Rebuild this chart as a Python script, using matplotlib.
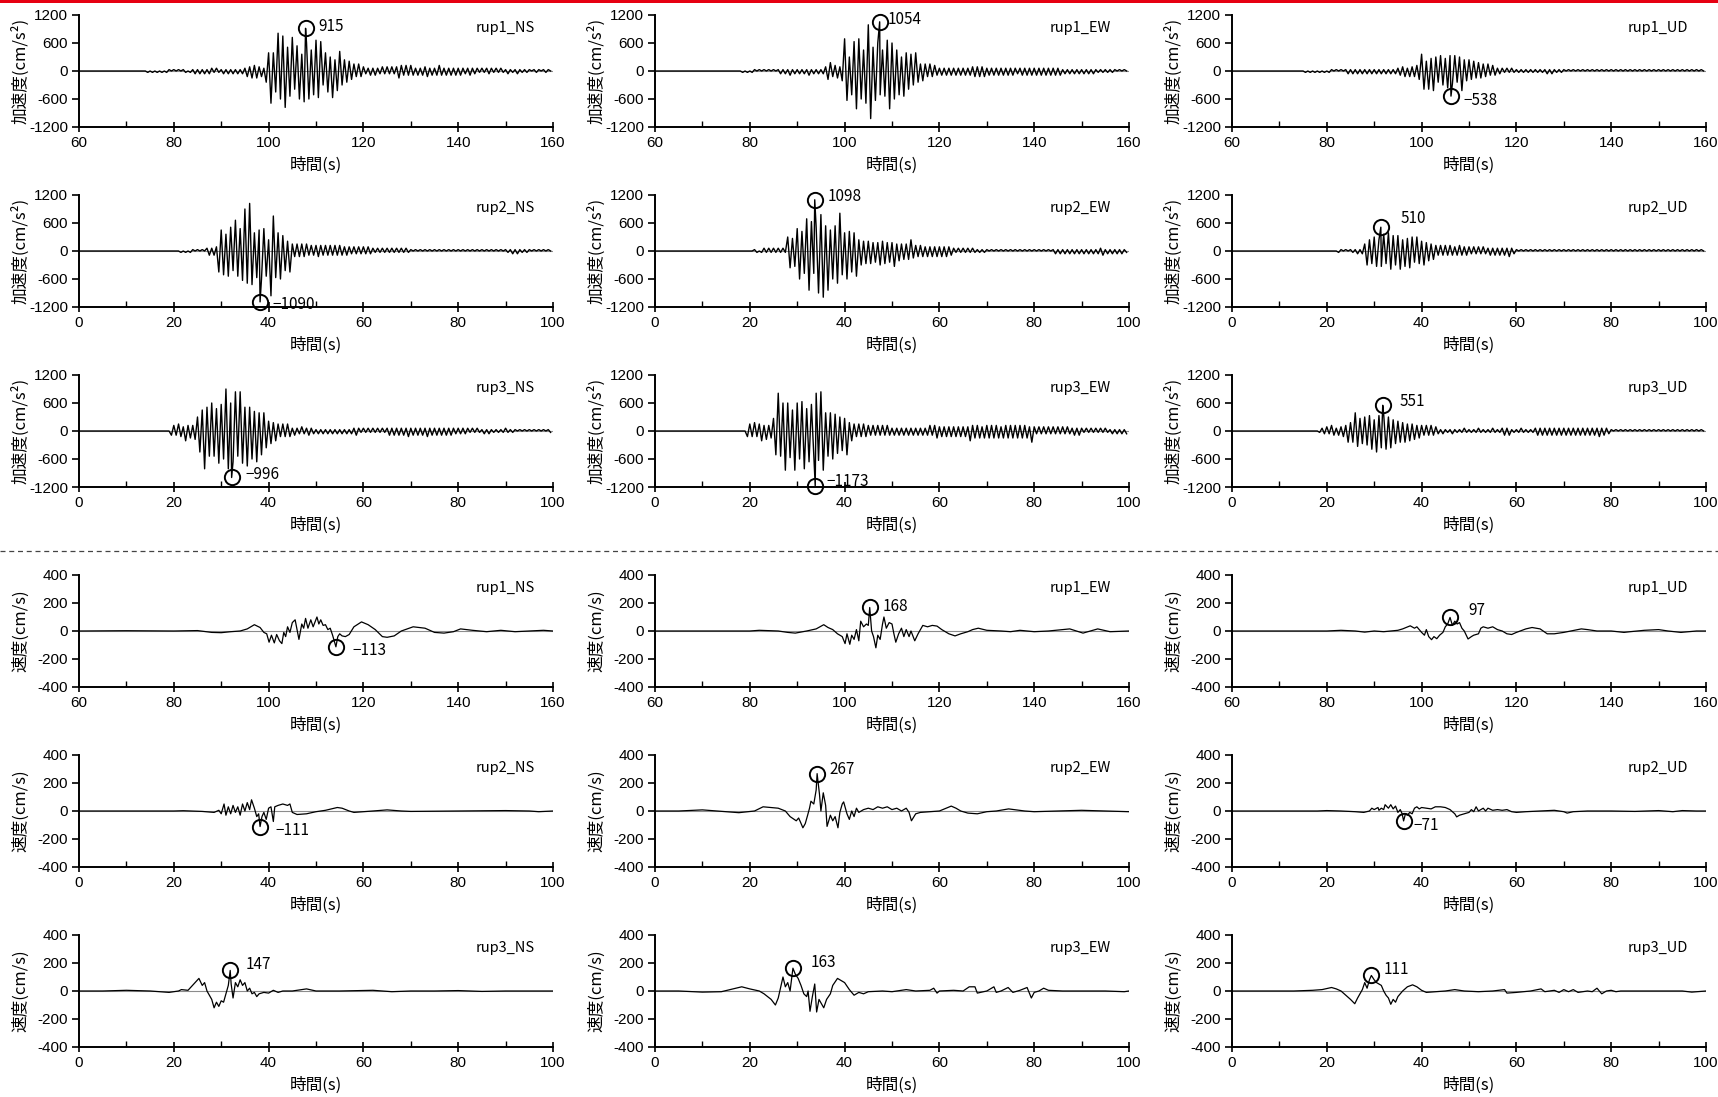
import numpy as np
import matplotlib.pyplot as plt
from matplotlib.lines import Line2D
from matplotlib.patches import Rectangle

plt.rcParams['font.family'] = ['Liberation Sans', 'Noto Sans CJK JP', 'DejaVu Sans']
plt.rcParams['axes.unicode_minus'] = False
JP = ['Noto Sans CJK JP', 'DejaVu Sans']

# --- data --------------------------------------------------------------
ruptures = ["rup1", "rup2", "rup3"]
components = ["NS", "EW", "UD"]
t_start = {"rup1": 60, "rup2": 0, "rup3": 0}

# acceleration: one char = one peak every 0.5 s, sign alternates (+ on whole seconds),
# char index in LEVELS times ACC_UNIT gives |a| in cm/s2
LEVELS = "0123456789abcdefghijklmnopqrstuvwxyz"
ACC_UNIT = 30
STEP = 0.5

acc_rup1_ns = ("0" * 28 + "01010101011010101101" + "1212121221211212121212" + "243545342"
               + "8dndfrkpqhiodikcmkkfhmjladfaj8eea88" + "765454" + "32232322323232"
               + "35434343" + "232334232343232323" + "23222322212122212121"
               + "12111211111011101110")
acc_rup1_ew = ("0" * 36 + "0101011010101010" + "12121312121213121212" + "3664453"
               + "7nlahlrnkfnxyhlkhfimrkkfhaiddcad857" + "545443" + "23232323232323"
               + "343434" + "23232323232322232323" + "232323232323"
               + "1212121212121211111111101010")
acc_rup1_ud = ("0" * 30 + "010101010101101010" + "12" * 11 + "23342434"
               + "46cd7d9ea8ba9cb9b8ae87867565545343" + "22212121"
               + "11111111111112121111" + "10" * 30)
acc_rup2_ns = ("0" * 42 + "010101101010" + "2323" + "3ffhcihemiglunyodjfkgi8wpjdkbe7f"
               + "5454545343" + "444343434343333232323232" + "2121212121212121"
               + "10" * 20 + "1112121111" + "10" * 5)
acc_rup2_ew = ("0" * 42 + "11012121212121" + "ac" + "9bgkegnslghuqxisfkinrhdkefdi"
               + "8a7979686a7968" + "6b57565685" + "4444343434343433" + "21212121211111"
               + "10" * 14 + "12121212121212121212231212121211")
acc_rup2_ud = ("0" * 44 + "011010111212" + "5a89ab8bc9ddbabd8b9ca8a97a6756"
               + "4343434333433332323232" + "232323232422" + "10" * 40)
acc_rup3_ns = ("0" * 39 + "34354374546" + "affrhikignjkurkmsisnhphkemdhdc7967" + "545454"
               + "2322322322" + "12" * 8 + "2321" + "21" * 5 + "2323232324232323242323"
               + "232323222222212121" + "121211111121111010101010101011")
acc_rup3_ew = ("0" * 39 + "45464574645" + "9hrikskjfskklrgmjirlssdidkcgae9h67"
               + "5454544343434343" + "23" * 8 + "4345" + "34" * 6 + "37"
               + "454535454545354545454545" + "38" + "32323232323232322323"
               + "21212121212112121212")
acc_rup3_ud = ("0" * 37 + "12232432334" + "4868db99aabd8fbccdac897868575645" + "43434332"
               + "12111211112111112111112111" + "2323" + "1111211111"
               + "232323232323232323232323232" + "4" + "2322" + "10" * 20)

acc_traces = {
    ("rup1", "NS"): acc_rup1_ns, ("rup1", "EW"): acc_rup1_ew, ("rup1", "UD"): acc_rup1_ud,
    ("rup2", "NS"): acc_rup2_ns, ("rup2", "EW"): acc_rup2_ew, ("rup2", "UD"): acc_rup2_ud,
    ("rup3", "NS"): acc_rup3_ns, ("rup3", "EW"): acc_rup3_ew, ("rup3", "UD"): acc_rup3_ud,
}

# peak (time s, value)
acc_peaks = {
    ("rup1", "NS"): (107.8, 915), ("rup1", "EW"): (107.4, 1054), ("rup1", "UD"): (106.2, -538),
    ("rup2", "NS"): (38.2, -1090), ("rup2", "EW"): (33.7, 1098), ("rup2", "UD"): (31.4, 510),
    ("rup3", "NS"): (32.2, -996), ("rup3", "EW"): (33.8, -1173), ("rup3", "UD"): (31.8, 551),
}

# velocity: (time s, cm/s) points
vel_rup1_ns = [(60, 0), (70, 2), (80, 0), (85, 3), (88, -10), (90, -12), (92, -5), (94, 0), (95.5, 15),
               (97, 45), (98.2, 25), (99, -10), (99.6, -20), (100.1, -80), (100.6, -30), (101.2, -85),
               (101.7, -25), (102.3, -70), (102.8, -90), (103.2, -10), (103.6, -40), (104, 30),
               (104.5, -10), (105, 60), (105.6, 80), (106, 10), (106.4, -60), (107, 50), (107.4, 20),
               (107.8, 90), (108.3, 20), (108.9, 80), (109.4, 30), (110.2, 100), (110.6, 50), (111, 80),
               (111.5, 40), (112, 45), (112.5, 10), (113, 20), (113.5, -30), (114.6, -40), (115, -20),
               (115.5, -35), (116.2, -40), (117, -25), (118, 30), (119.6, 65), (121, 45), (122.5, 10),
               (124, -40), (125, -45), (126.5, -35), (128, 0), (130.5, 30), (133, 20), (135, -10),
               (137, -15), (139, -5), (140.5, 15), (143, 5), (146, -5), (149, 5), (152, -5), (155, 0),
               (158, 5), (160, 0)]
vel_rup1_ew = [(60, 0), (70, 0), (80, 0), (82, 5), (86, 0), (88, -10), (89.6, -15), (92, 0), (94, 15),
               (95.6, 45), (96.5, 25), (97.5, 10), (98.5, -20), (99.5, -40), (100.1, -90), (100.5, -20),
               (101.1, -95), (101.5, -30), (102, -60), (102.5, 10), (103, -70), (103.4, 70), (104, 30),
               (104.6, 50), (105.0, 40), (105.7, 0), (106.1, -40), (106.6, -120), (107, -30),
               (107.5, -60), (108, 50), (108.3, 100), (108.8, 20), (109.4, 60), (110, 50), (110.4, -20),
               (110.8, -80), (111.4, -20), (112, 20), (112.5, -40), (113, 10), (113.6, -40), (114, 0),
               (114.8, -70), (115.5, -20), (116.5, 40), (117.5, 30), (118.5, 40), (119.5, 35),
               (120.5, 10), (122, -20), (123.3, -35), (124.5, -20), (126, -5), (127, 10), (128.2, 20),
               (130, 5), (133, 0), (135, -5), (137, 5), (140, -5), (143, 0), (147.5, 15),
               (150.3, -15), (153.4, 15), (156, -5), (160, 0)]
vel_rup1_ud = [(60, 0), (70, 0), (80, 0), (83, 5), (86, 0), (88, -8), (90, 0), (92, -5), (95, 5), (96, 15),
               (97.6, 37), (98.5, 20), (99, 30), (100, -10), (100.6, -30), (101, 10), (101.5, -40),
               (102.1, -62), (102.6, -40), (103.2, -55), (103.8, -30), (104.5, -10), (105, 30),
               (105.5, 50), (106.5, 40), (107, 70), (107.5, 50), (108, 60), (108.5, 20), (109, 0),
               (109.8, -57), (110.5, -40), (111, -30), (112, -20), (112.5, 20), (113, 30), (114, 20),
               (115, 30), (116, 10), (117, 0), (118, -20), (119, -25), (120, -10), (122, 15),
               (123.3, 25), (125, 15), (126.5, -20), (128, -20), (130, -10), (133.7, 15), (135, 10),
               (137, 0), (140, 0), (142.7, -10), (144, -5), (147, 5), (150, 10), (152, 0),
               (154.7, -10), (158, 0), (160, 0)]
vel_rup2_ns = [(0, 0), (10, 0), (20, 0), (22, 2), (26, -3), (28.5, -10), (29.5, 5), (30, -20), (30.6, 50),
               (31, -30), (31.5, 30), (32, -20), (32.5, 40), (33, -10), (33.5, 30), (34, -30),
               (34.5, 50), (35, 0), (35.5, 60), (36, 10), (36.4, 80), (37, 20), (37.5, -40),
               (37.9, -20), (38.6, -40), (39, -10), (39.5, -60), (40, 20), (40.5, 30), (41, -75),
               (41.3, 30), (42, 40), (43, 50), (44, 40), (44.5, 50), (45, -10), (46, -25), (48, -20),
               (50, -5), (52, 5), (54.5, 25), (55.5, 20), (57, 0), (58, -10), (60, -5), (62, 0),
               (65, 8), (68, 0), (70, -3), (80, 0), (90, 3), (95, 0), (97, -5), (100, 0)]
vel_rup2_ew = [(0, 0), (5, 0), (10, 8), (15, -5), (17.7, -12), (21, 0), (22.8, 30), (26, 20), (27.5, 0),
               (28.5, -40), (29.8, -70), (30.3, -50), (30.7, -80), (31.2, -120), (31.7, -90),
               (32.2, -30), (32.6, 20), (32.9, 70), (33.5, 50), (34.0, 150), (34.7, 120), (35.0, 0),
               (35.5, 130), (36, 40), (36.3, -110), (37, -30), (37.5, -70), (38, -40), (38.6, -120),
               (39, -10), (39.5, 50), (39.8, 65), (40.5, -20), (41, -60), (41.5, 0), (42, -40),
               (42.5, 20), (43, -10), (44, 10), (45, 20), (46, 10), (47, 30), (48, 20), (49, 30),
               (50, 10), (51, 20), (52, 0), (53, 20), (53.6, -10), (54.1, -70), (55, -20), (56, -10),
               (58, -5), (60, 0), (62.5, 35), (63.5, 20), (64.5, 0), (66, -15), (68, -20), (70, -5),
               (72, 0), (74.6, 15), (78, 0), (80, -5), (85, 0), (90, 5), (95, 0), (100, -5)]
vel_rup2_ud = [(0, 0), (10, 0), (18, 0), (20, 3), (23, 0), (26, -5), (27.8, -10), (29, 0), (29.5, 20),
               (30, 10), (30.8, 25), (31, 5), (31.5, 20), (32, 10), (32.3, 45), (33, 20), (33.5, 45),
               (34, 15), (34.5, 35), (35, -10), (35.5, 10), (35.9, -20), (36.6, -20), (37, -30),
               (37.5, -10), (38, -20), (38.5, 20), (39, 30), (39.5, 15), (40, 25), (41, 20), (42, 15),
               (42.9, 30), (44, 30), (45, 25), (46, 10), (47, -20), (47.4, -42), (48, -30), (49, -20),
               (50, -10), (50.5, 10), (51, -5), (51.5, 30), (52, 0), (53, 20), (53.5, 0), (54, 20),
               (55, 5), (56, 10), (57, 5), (58, 10), (59, -5), (60, -10), (62, -5), (65, 0), (68, 5),
               (70, -5), (70.7, -15), (72, -5), (75, 0), (80, 0), (85, -3), (90, 3), (93, -5),
               (95, 3), (98, 0), (100, 0)]
vel_rup3_ns = [(0, 0), (5, 0), (10, 5), (15, 0), (19, -10), (21, 0), (21.6, 10), (23, 5), (25.3, 90),
               (26, 40), (26.5, 60), (27, 0), (28, -60), (28.5, -120), (29, -80), (29.5, -110),
               (30, -70), (30.5, -80), (31, -20), (31.5, 40), (32.1, 50), (32.5, -50), (33, 60),
               (33.5, 30), (34, 80), (34.5, 40), (35, 60), (35.5, 0), (36, 20), (36.5, -20), (37, -10),
               (37.5, -40), (38, -20), (39, -10), (40, -15), (41, 5), (42, -10), (43, 0), (45, 0),
               (48, 15), (50, 0), (55, 0), (62, 5), (66, -5), (70, 0), (75, 0), (80, 3), (85, -3),
               (90, 0), (100, 0)]
vel_rup3_ew = [(0, 0), (5, 0), (10, -8), (14, -5), (18.3, 30), (20, 15), (22, 0), (23, -20), (24.5, -60),
               (25.4, -100), (26, -50), (27, 100), (27.5, 30), (28, 60), (28.5, 0), (29.6, 120),
               (30.2, 90), (30.8, 40), (31.4, -20), (32, -40), (32.3, 0), (32.7, -145), (33.2, -40),
               (33.7, 50), (34.1, -150), (34.6, -60), (35.6, -120), (36.2, -60), (37, -20), (37.5, 40),
               (38.5, 90), (39.5, 70), (40, 60), (41, 10), (42, -30), (43, -10), (44, -20), (45, -5),
               (48, 0), (50, -5), (53, 10), (55, 0), (58, 5), (58.8, 20), (59.5, -15), (60, 0),
               (63, 5), (65, 0), (66.3, 30), (67.5, 30), (68, -15), (70, 0), (71.5, 30), (72, -10),
               (73, 0), (74.5, 25), (75.5, -10), (77, 5), (78.5, 25), (79.4, -50), (80, -10), (81, 0),
               (82, 20), (83, 5), (86, 0), (90, 0), (95, 0), (99, -5), (100, 0)]
vel_rup3_ud = [(0, 0), (10, 0), (13, 0), (17, 5), (19, 10), (21, 25), (22, 15), (23, 0), (24, -30),
               (25, -60), (25.9, -91), (26.5, -50), (27, -20), (27.5, 10), (28, 60), (28.5, 20),
               (29, 80), (30, 80), (30.5, 60), (31, 50), (31.5, 40), (32, 0), (32.5, -30), (33, -50),
               (33.5, -95), (34, -60), (34.5, -80), (35, -40), (35.5, -20), (36, 0), (37, 30),
               (38.1, 44), (39, 30), (40, 5), (41, -10), (43, -5), (45, 0), (47, 10), (49, 0),
               (52, -5), (55, 0), (57.5, 10), (58, -15), (60, -10), (63, 0), (65.2, 15), (66, -5),
               (68, 5), (69, -10), (70, 10), (71, -5), (72, 10), (73, -10), (75, 0), (76, -5),
               (77, 20), (78, -20), (79, 0), (80, 5), (81, -5), (82, 0), (90, 0), (95, 0), (97, -8),
               (100, 0)]

vel_traces = {
    ("rup1", "NS"): vel_rup1_ns, ("rup1", "EW"): vel_rup1_ew, ("rup1", "UD"): vel_rup1_ud,
    ("rup2", "NS"): vel_rup2_ns, ("rup2", "EW"): vel_rup2_ew, ("rup2", "UD"): vel_rup2_ud,
    ("rup3", "NS"): vel_rup3_ns, ("rup3", "EW"): vel_rup3_ew, ("rup3", "UD"): vel_rup3_ud,
}
vel_peaks = {
    ("rup1", "NS"): (114.2, -113), ("rup1", "EW"): (105.3, 168), ("rup1", "UD"): (106.0, 97),
    ("rup2", "NS"): (38.2, -111), ("rup2", "EW"): (34.2, 267), ("rup2", "UD"): (36.2, -71),
    ("rup3", "NS"): (31.9, 147), ("rup3", "EW"): (29.1, 163), ("rup3", "UD"): (29.4, 111),
}

# label offsets of the peak values (points), style only
acc_label_off = {
    ("rup1", "NS"): (9, 1), ("rup1", "EW"): (6, 2), ("rup1", "UD"): (9, -3),
    ("rup2", "NS"): (9, -2), ("rup2", "EW"): (9, 2), ("rup2", "UD"): (14, 6),
    ("rup3", "NS"): (10, 2), ("rup3", "EW"): (8, 3), ("rup3", "UD"): (12, 3),
}
vel_label_off = {
    ("rup1", "NS"): (12, -3), ("rup1", "EW"): (9, 1), ("rup1", "UD"): (13, 5),
    ("rup2", "NS"): (11, -3), ("rup2", "EW"): (9, 3), ("rup2", "UD"): (7, -3),
    ("rup3", "NS"): (11, 4), ("rup3", "EW"): (13, 4), ("rup3", "UD"): (9, 4),
}


def acc_series(code, t0, peak):
    mag = np.array([LEVELS.index(c) for c in code]) * ACC_UNIT
    sign = np.where(np.arange(len(mag)) % 2 == 0, 1, -1)
    t = t0 + STEP * np.arange(len(mag))
    y = mag * sign
    i = np.searchsorted(t, peak[0])
    return np.insert(t, i, peak[0]), np.insert(y.astype(float), i, peak[1])


def vel_series(points, peak):
    t = np.array([p[0] for p in points], dtype=float)
    y = np.array([p[1] for p in points], dtype=float)
    i = np.searchsorted(t, peak[0])
    return np.insert(t, i, peak[0]), np.insert(y, i, peak[1])


# --- layout ------------------------------------------------------------
W, H = 1718, 1097
fig = plt.figure(figsize=(W / 100, H / 100), dpi=100)

col_left = [79, 655, 1232]
ax_w, ax_h = 474, 112
acc_top = [15, 195, 375]
vel_top = [575, 755, 935]


def style_axes(ax, t0, ylim, yticks, ylabel):
    ax.set_xlim(t0, t0 + 100)
    ax.set_ylim(-ylim, ylim)
    ax.set_xticks(np.arange(t0, t0 + 101, 20))
    ax.set_xticks(np.arange(t0, t0 + 101, 10), minor=True)
    ax.set_yticks(yticks)
    for s in ("top", "right"):
        ax.spines[s].set_visible(False)
    for s in ("left", "bottom"):
        ax.spines[s].set_linewidth(1.4)
    ax.tick_params(axis="x", which="major", direction="inout", length=7, width=1.2,
                   labelsize=11, pad=3)
    ax.tick_params(axis="x", which="minor", direction="in", length=4, width=1.0)
    ax.tick_params(axis="y", direction="out", length=5, width=1.2, labelsize=11, pad=3)
    ax.set_xlabel("時間(s)", family=JP, fontsize=12, labelpad=5)
    ax.set_ylabel(ylabel, family=JP, fontsize=12)
    ax.yaxis.set_label_coords(-0.105, 0.5)
    ax.axhline(0, color="#8c8c8c", lw=0.8, zorder=1)


for r, rup in enumerate(ruptures):
    for c, comp in enumerate(components):
        key = (rup, comp)
        t0 = t_start[rup]

        ax = fig.add_axes([col_left[c] / W, 1 - (acc_top[r] + ax_h) / H, ax_w / W, ax_h / H])
        style_axes(ax, t0, 1200, [-1200, -600, 0, 600, 1200], "加速度(cm/s²)")
        t, y = acc_series(acc_traces[key], t0, acc_peaks[key])
        ax.plot(t, y, color="black", lw=1.0, zorder=2)
        tp, vp = acc_peaks[key]
        ax.plot(tp, vp, "o", mfc="none", mec="black", ms=11, mew=1.4, zorder=3, clip_on=False)
        ax.annotate(str(vp).replace("-", "−"), (tp, vp), xytext=acc_label_off[key],
                    textcoords="offset points", va="center", ha="left", fontsize=11, family=JP)
        ax.text(0.962, 0.88, f"{rup}_{comp}", transform=ax.transAxes, ha="right", va="center",
                fontsize=10.5, family=JP)

        ax = fig.add_axes([col_left[c] / W, 1 - (vel_top[r] + ax_h) / H, ax_w / W, ax_h / H])
        style_axes(ax, t0, 400, [-400, -200, 0, 200, 400], "速度(cm/s)")
        t, y = vel_series(vel_traces[key], vel_peaks[key])
        ax.plot(t, y, color="black", lw=0.9, zorder=2)
        tp, vp = vel_peaks[key]
        ax.plot(tp, vp, "o", mfc="none", mec="black", ms=11, mew=1.4, zorder=3, clip_on=False)
        ax.annotate(str(vp).replace("-", "−"), (tp, vp), xytext=vel_label_off[key],
                    textcoords="offset points", va="center", ha="left", fontsize=11, family=JP)
        ax.text(0.962, 0.88, f"{rup}_{comp}", transform=ax.transAxes, ha="right", va="center",
                fontsize=10.5, family=JP)

# red band at the top and dashed separator between acceleration and velocity
fig.add_artist(Rectangle((0, 1 - 3 / H), 1, 3 / H, transform=fig.transFigure,
                         color="#e60012", lw=0))
fig.add_artist(Line2D([0, 1], [1 - 551 / H, 1 - 551 / H], transform=fig.transFigure,
                      color="#444444", lw=0.9, ls=(0, (4, 3))))

fig.savefig("out.png", dpi=100)
